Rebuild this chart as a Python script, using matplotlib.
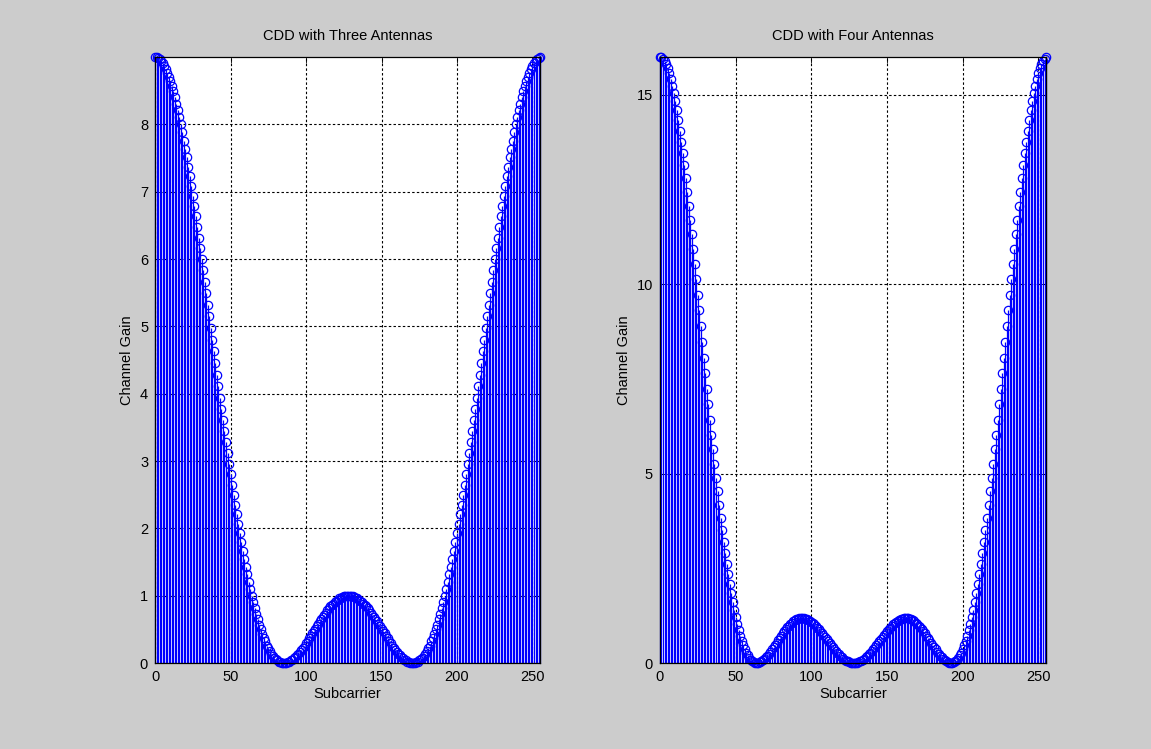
import matplotlib
matplotlib.use("Agg")
import matplotlib.pyplot as plt

plt.rcParams["font.family"] = ["Liberation Sans", "DejaVu Sans"]

# subcarrier index
subcarrier = list(range(256))

# channel gain, three antennas
gain_three = [
    9.00, 9.00, 8.99, 8.97, 8.94, 8.91, 8.87, 8.82, 8.77, 8.71,
    8.64, 8.57, 8.49, 8.40, 8.31, 8.21, 8.11, 8.00, 7.88, 7.76,
    7.64, 7.51, 7.37, 7.23, 7.09, 6.94, 6.79, 6.64, 6.48, 6.32,
    6.16, 6.00, 5.83, 5.66, 5.49, 5.32, 5.15, 4.98, 4.80, 4.63,
    4.46, 4.28, 4.11, 3.94, 3.77, 3.61, 3.44, 3.28, 3.12, 2.96,
    2.80, 2.65, 2.50, 2.35, 2.21, 2.07, 1.93, 1.80, 1.67, 1.55,
    1.43, 1.32, 1.21, 1.10, 1.00, 0.90, 0.81, 0.73, 0.65, 0.57,
    0.50, 0.43, 0.37, 0.32, 0.26, 0.22, 0.18, 0.14, 0.11, 0.08,
    0.06, 0.04, 0.02, 0.01, 0.00, 0.00, 0.00, 0.00, 0.01, 0.02,
    0.04, 0.05, 0.07, 0.09, 0.12, 0.14, 0.17, 0.20, 0.23, 0.26,
    0.30, 0.33, 0.37, 0.40, 0.44, 0.48, 0.51, 0.55, 0.58, 0.62,
    0.65, 0.69, 0.72, 0.75, 0.78, 0.81, 0.84, 0.86, 0.88, 0.91,
    0.92, 0.94, 0.96, 0.97, 0.98, 0.99, 1.00, 1.00, 1.00, 1.00,
    1.00, 0.99, 0.98, 0.97, 0.96, 0.94, 0.92, 0.91, 0.88, 0.86,
    0.84, 0.81, 0.78, 0.75, 0.72, 0.69, 0.65, 0.62, 0.58, 0.55,
    0.51, 0.48, 0.44, 0.40, 0.37, 0.33, 0.30, 0.26, 0.23, 0.20,
    0.17, 0.14, 0.12, 0.09, 0.07, 0.05, 0.04, 0.02, 0.01, 0.00,
    0.00, 0.00, 0.00, 0.01, 0.02, 0.04, 0.06, 0.08, 0.11, 0.14,
    0.18, 0.22, 0.26, 0.32, 0.37, 0.43, 0.50, 0.57, 0.65, 0.73,
    0.81, 0.90, 1.00, 1.10, 1.21, 1.32, 1.43, 1.55, 1.67, 1.80,
    1.93, 2.07, 2.21, 2.35, 2.50, 2.65, 2.80, 2.96, 3.12, 3.28,
    3.44, 3.61, 3.77, 3.94, 4.11, 4.28, 4.46, 4.63, 4.80, 4.98,
    5.15, 5.32, 5.49, 5.66, 5.83, 6.00, 6.16, 6.32, 6.48, 6.64,
    6.79, 6.94, 7.09, 7.23, 7.37, 7.51, 7.64, 7.76, 7.88, 8.00,
    8.11, 8.21, 8.31, 8.40, 8.49, 8.57, 8.64, 8.71, 8.77, 8.82,
    8.87, 8.91, 8.94, 8.97, 8.99, 9.00,
]

# channel gain, four antennas
gain_four = [
    16.00, 15.99, 15.95, 15.89, 15.81, 15.70, 15.57, 15.42, 15.24, 15.05,
    14.83, 14.59, 14.34, 14.06, 13.77, 13.46, 13.14, 12.80, 12.45, 12.08,
    11.71, 11.33, 10.93, 10.53, 10.13, 9.72, 9.31, 8.89, 8.48, 8.06,
    7.65, 7.24, 6.83, 6.43, 6.03, 5.64, 5.26, 4.89, 4.53, 4.18,
    3.84, 3.51, 3.20, 2.90, 2.62, 2.34, 2.09, 1.85, 1.62, 1.41,
    1.21, 1.03, 0.87, 0.72, 0.59, 0.47, 0.36, 0.27, 0.20, 0.13,
    0.08, 0.05, 0.02, 0.00, 0.00, 0.00, 0.02, 0.04, 0.07, 0.11,
    0.15, 0.19, 0.25, 0.30, 0.36, 0.42, 0.48, 0.54, 0.60, 0.66,
    0.72, 0.78, 0.84, 0.89, 0.94, 0.99, 1.03, 1.06, 1.10, 1.13,
    1.15, 1.17, 1.18, 1.18, 1.19, 1.18, 1.17, 1.16, 1.14, 1.11,
    1.09, 1.05, 1.02, 0.98, 0.93, 0.89, 0.84, 0.79, 0.73, 0.68,
    0.63, 0.57, 0.52, 0.47, 0.41, 0.36, 0.32, 0.27, 0.23, 0.19,
    0.15, 0.11, 0.08, 0.06, 0.04, 0.02, 0.01, 0.00, 0.00, 0.00,
    0.01, 0.02, 0.04, 0.06, 0.08, 0.11, 0.15, 0.19, 0.23, 0.27,
    0.32, 0.36, 0.41, 0.47, 0.52, 0.57, 0.63, 0.68, 0.73, 0.79,
    0.84, 0.89, 0.93, 0.98, 1.02, 1.05, 1.09, 1.11, 1.14, 1.16,
    1.17, 1.18, 1.19, 1.18, 1.18, 1.17, 1.15, 1.13, 1.10, 1.06,
    1.03, 0.99, 0.94, 0.89, 0.84, 0.78, 0.72, 0.66, 0.60, 0.54,
    0.48, 0.42, 0.36, 0.30, 0.25, 0.19, 0.15, 0.11, 0.07, 0.04,
    0.02, 0.00, 0.00, 0.00, 0.02, 0.05, 0.08, 0.13, 0.20, 0.27,
    0.36, 0.47, 0.59, 0.72, 0.87, 1.03, 1.21, 1.41, 1.62, 1.85,
    2.09, 2.34, 2.62, 2.90, 3.20, 3.51, 3.84, 4.18, 4.53, 4.89,
    5.26, 5.64, 6.03, 6.43, 6.83, 7.24, 7.65, 8.06, 8.48, 8.89,
    9.31, 9.72, 10.13, 10.53, 10.93, 11.33, 11.71, 12.08, 12.45, 12.80,
    13.14, 13.46, 13.77, 14.06, 14.34, 14.59, 14.83, 15.05, 15.24, 15.42,
    15.57, 15.70, 15.81, 15.89, 15.95, 15.99,
]

titles = ["CDD with Three Antennas", "CDD with Four Antennas"]
yticks_list = [list(range(0, 9)), [0, 5, 10, 15]]
ymax_list = [9, 16]

fig = plt.figure(figsize=(11.51, 7.49), dpi=100)
fig.patch.set_facecolor("#cccccc")

ax1 = fig.add_axes([0.1347, 0.1148, 0.3345, 0.809])
ax2 = fig.add_axes([0.5734, 0.1148, 0.3354, 0.809])

for ax, gains, title, yt, ymax in zip([ax1, ax2], [gain_three, gain_four],
                                      titles, yticks_list, ymax_list):
    ax.set_facecolor("white")
    markerline, stemlines, baseline = ax.stem(subcarrier, gains, linefmt="b-",
                                              markerfmt="bo", basefmt=" ")
    stemlines.set_linewidth(0.9)
    stemlines.set_color("#0000ff")
    markerline.set_markerfacecolor("none")
    markerline.set_markeredgecolor("#0000ff")
    markerline.set_markersize(6)
    markerline.set_markeredgewidth(0.9)
    markerline.set_clip_on(False)
    stemlines.set_clip_on(False)

    ax.set_xlim(0, 255)
    ax.set_ylim(0, ymax)
    ax.set_xticks([0, 50, 100, 150, 200, 250])
    ax.set_yticks(yt)
    ax.grid(True, color="black", linestyle=(0, (2.2, 2.0)), linewidth=0.8)
    ax.set_axisbelow(True)
    ax.tick_params(direction="in", top=True, right=True, length=4,
                   width=0.6, labelsize=10.5, pad=5)
    for sp in ax.spines.values():
        sp.set_linewidth(0.9)
        sp.set_color("black")
    ax.set_title(title, fontsize=10.5, pad=12)
    ax.set_xlabel("Subcarrier", fontsize=10.5, labelpad=2)
    ax.set_ylabel("Channel Gain", fontsize=10.5, labelpad=4)

fig.savefig("out.png", dpi=100, facecolor=fig.get_facecolor())
